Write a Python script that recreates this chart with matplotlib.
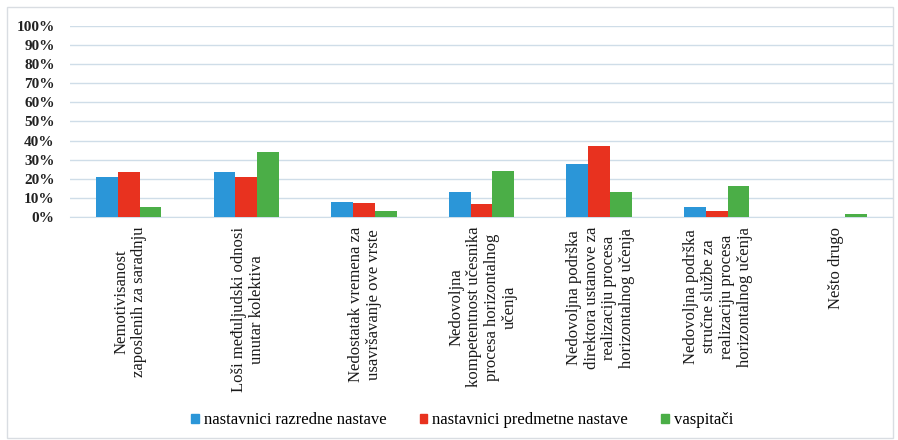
import matplotlib
matplotlib.use("Agg")
import matplotlib.pyplot as plt
import numpy as np
from matplotlib.patches import Rectangle

categories = [
    "Nemotivisanost\nzaposlenih za saradnju",
    "Loši međuljudski odnosi\nunutar kolektiva",
    "Nedostatak vremena za\nusavršavanje ove vrste",
    "Nedovoljna\nkompetentnost učesnika\nprocesa horizontalnog\nučenja",
    "Nedovoljna podrška\ndirektora ustanove za\nrealizaciju procesa\nhorizontalnog učenja",
    "Nedovoljna podrška\nstručne službe za\nrealizaciju procesa\nhorizontalnog učenja",
    "Nešto drugo",
]
series_names = [
    "nastavnici razredne nastave",
    "nastavnici predmetne nastave",
    "vaspitači",
]
razredne = [21, 23.5, 8, 13, 28, 5, 0]
predmetne = [23.5, 21, 7.3, 7, 37, 3.3, 0]
vaspitaci = [5, 34, 3.3, 24, 13, 16, 1.7]
y_ticks = [0, 10, 20, 30, 40, 50, 60, 70, 80, 90, 100]

colors = ["#2b96d8", "#e8321f", "#4bae47"]
serif = ["Liberation Serif", "DejaVu Serif"]

fig = plt.figure(figsize=(8.98, 4.40), dpi=100)
fig.patch.set_facecolor("white")

# light outer frame around the chart
fig.add_artist(Rectangle((7 / 898, 2 / 440), 886 / 898, 431 / 440,
                         transform=fig.transFigure, fill=False,
                         edgecolor="#d9dde2", linewidth=1.0))

ax = fig.add_axes([70 / 898, 1 - 217 / 440, (893 - 70) / 898, (217 - 26) / 440])
x = np.arange(len(categories))
w = 0.185
for i, (vals, c, name) in enumerate(zip([razredne, predmetne, vaspitaci], colors, series_names)):
    ax.bar(x + (i - 1) * w, vals, width=w, color=c, label=name, zorder=3)

ax.set_xlim(-0.5, len(categories) - 0.5)
ax.set_ylim(0, 100)
ax.set_yticks(y_ticks)
ax.set_yticklabels([f"{t}%" for t in y_ticks], fontfamily=serif,
                   fontweight="bold", fontsize=11, color="#222222")
ax.yaxis.grid(True, color="#cfdde8", linewidth=1.0, zorder=0)
ax.set_axisbelow(True)
for s in ["top", "right", "left"]:
    ax.spines[s].set_visible(False)
ax.spines["bottom"].set_color("#cfdde8")
ax.tick_params(axis="y", length=0, pad=11)
ax.set_xticks([])

# rotated category labels below the axis
for xi, lab in zip(x, categories):
    ax.annotate(lab, xy=(xi, 0), xycoords="data", xytext=(1, -7),
                textcoords="offset points", rotation=90, ha="center",
                va="top", multialignment="center", fontfamily=serif,
                fontsize=12, color="#1a1a1a", linespacing=1.15)

handles = [Rectangle((0, 0), 1, 1, color=c) for c in colors]
fig.legend(handles, series_names, loc="center", bbox_to_anchor=(462 / 898, 1 - 420 / 440),
           ncol=3, frameon=False, prop={"family": serif, "size": 12},
           handlelength=0.45, handleheight=0.45, handletextpad=0.3, columnspacing=2.0)

fig.savefig("out.png", dpi=100, facecolor="white")
